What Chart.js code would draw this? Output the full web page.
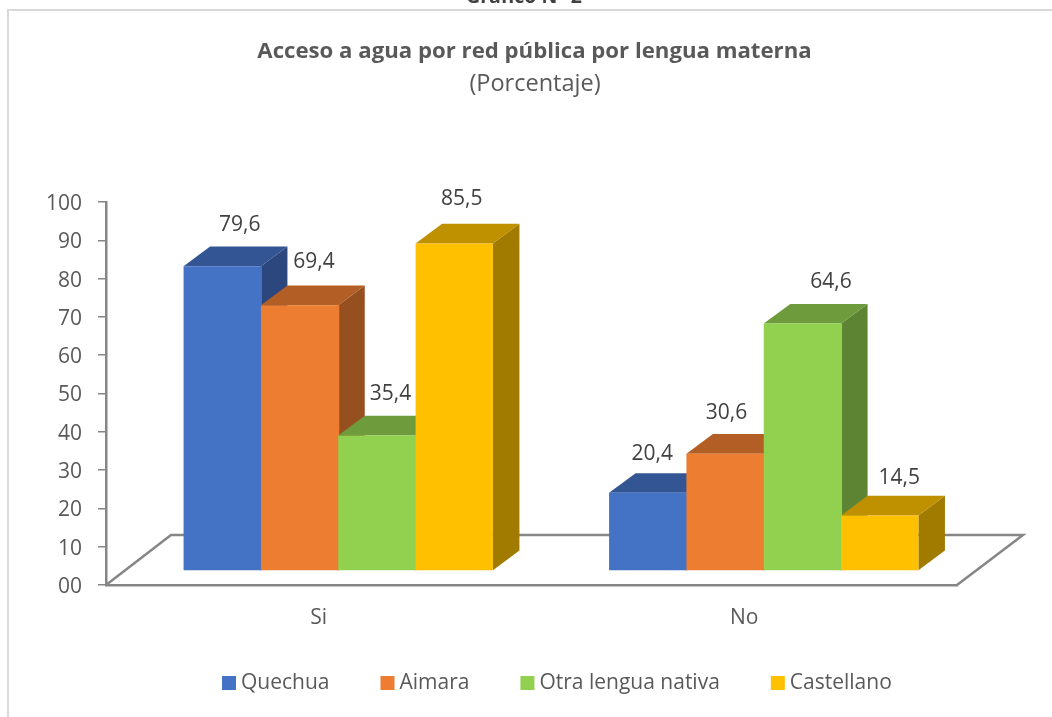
<!DOCTYPE html>
<html><head><meta charset="utf-8">
<style>html,body{margin:0;padding:0;background:#fff}canvas{display:block}</style>
<script src="https://cdn.jsdelivr.net/npm/chart.js@4"></script>
</head><body>
<div style="width:1052px;height:717px"><canvas id="c" width="1052" height="717"></canvas></div>
<script>
const categories = ['Si', 'No'];
const quechua = [79.6, 20.4];
const aimara = [69.4, 30.6];
const otraLengua = [35.4, 64.6];
const castellano = [85.5, 14.5];
const seriesNames = ['Quechua', 'Aimara', 'Otra lengua nativa', 'Castellano'];
const frontColors = ['#4472C4', '#ED7D31', '#92D050', '#FFC000'];
const topColors = ['#335593', '#B25E25', '#6E9C3C', '#BF9000'];
const sideColors = ['#2B477D', '#96501F', '#5D8433', '#A17A00'];
const yTickLabels = ['00','10','20','30','40','50','60','70','80','90','100'];
const pageHeading = 'Gráfico N° 2';
const chartTitle = 'Acceso a agua por red pública por lengua materna';
const chartSubtitle = '(Porcentaje)';

const FONT = '"Open Sans", sans-serif';
const LABEL_SIZE = 21;
const AXIS = '#868686';
const SHIFT = {x: 19.5, y: -14};   // bars stand inside the floor
const DEPTH = {x: 26.5, y: -19.7}; // 3-D depth of each bar
const FLOOR = {x: 65, y: -50};     // 3-D depth of the floor
// hand-placed value labels: nudge per series, per category
const NUDGE_X = [[-2,-15],[-5,-18],[-6,9],[-12,0]];
const NUDGE_Y = [[2,4],[0,2],[1,1],[-2,5]];

function fmt(v){ return v.toFixed(1).replace('.', ','); }
function poly(ctx, pts, fill){
  ctx.beginPath();
  pts.forEach((p,i)=> i ? ctx.lineTo(p[0],p[1]) : ctx.moveTo(p[0],p[1]));
  ctx.closePath();
  ctx.fillStyle = fill; ctx.fill();
}

const frame = {
  id: 'frame',
  beforeDraw(chart){
    const ctx = chart.ctx;
    ctx.save();
    ctx.fillStyle = '#fff'; ctx.fillRect(0,0,chart.width,chart.height);
    ctx.strokeStyle = '#D9D9D9'; ctx.lineWidth = 2;
    ctx.beginPath(); ctx.moveTo(8,717); ctx.lineTo(8,10); ctx.lineTo(1052,10); ctx.stroke();
    ctx.textAlign = 'center'; ctx.textBaseline = 'alphabetic';
    ctx.fillStyle = '#404040'; ctx.font = 'bold 19.5px ' + FONT;
    ctx.fillText(pageHeading, 524, 3);
    ctx.fillStyle = '#595959'; ctx.font = 'bold 22.2px ' + FONT;
    ctx.fillText(chartTitle, 534.5, 58);
    ctx.font = '23.5px ' + FONT;
    ctx.fillText(chartSubtitle, 535, 91);
    // legend
    ctx.textAlign = 'left'; ctx.textBaseline = 'middle'; ctx.font = LABEL_SIZE + 'px ' + FONT;
    let x = 222;
    seriesNames.forEach((n,i)=>{
      ctx.fillStyle = frontColors[i]; ctx.fillRect(x, 676, 14, 14);
      ctx.fillStyle = '#595959'; ctx.fillText(n, x+19, 683);
      x += 19 + ctx.measureText(n).width + 51;
    });
    ctx.restore();
  },
  beforeDatasetsDraw(chart){
    const ctx = chart.ctx, a = chart.chartArea;
    const last = chart.data.datasets.length - 1;
    ctx.save();
    ctx.strokeStyle = AXIS; ctx.lineWidth = 2.5;
    ctx.beginPath();
    ctx.moveTo(a.left, a.bottom);
    ctx.lineTo(a.left+FLOOR.x, a.bottom+FLOOR.y);
    ctx.lineTo(a.right+FLOOR.x+1, a.bottom+FLOOR.y);
    ctx.lineTo(a.right, a.bottom);
    ctx.stroke();
    ctx.translate(SHIFT.x, SHIFT.y);
    // series order: each front covers its left neighbour's side
    chart.data.datasets.forEach((ds,i)=>{
      chart.getDatasetMeta(i).data.forEach(bar=>{
        const l = bar.x-bar.width/2, r = bar.x+bar.width/2, t = bar.y, b = bar.base;
        const dx = DEPTH.x, dy = DEPTH.y;
        poly(ctx, [[r,t],[r+dx,t+dy],[r+dx,b+dy],[r,b]], sideColors[i]);
        poly(ctx, [[l,t],[l+dx,t+dy],[r+dx,t+dy],[r,t]], topColors[i]);
        // small overlap so the floor line cannot show through the seam between fronts
        if (i < last) poly(ctx, [[r-1,t],[r+1,t],[r+1,b],[r-1,b]], frontColors[i]);
        bar.draw(ctx);
      });
    });
    // value labels
    ctx.fillStyle = '#404040'; ctx.font = LABEL_SIZE + 'px ' + FONT;
    ctx.textAlign = 'center'; ctx.textBaseline = 'middle';
    chart.data.datasets.forEach((ds,i)=>{
      chart.getDatasetMeta(i).data.forEach((bar,j)=>{
        ctx.fillText(fmt(ds.data[j]), bar.x+DEPTH.x-7+NUDGE_X[i][j], bar.y+DEPTH.y-23+NUDGE_Y[i][j]);
      });
    });
    ctx.restore();
    return false;
  }
};

const series = [quechua, aimara, otraLengua, castellano];
new Chart(document.getElementById('c'), {
  type: 'bar',
  data: {
    labels: categories,
    datasets: series.map((d,i)=>({
      label: seriesNames[i], data: d,
      backgroundColor: frontColors[i], borderWidth: 0,
      categoryPercentage: 0.727, barPercentage: 1
    }))
  },
  plugins: [frame],
  options: {
    responsive: false, animation: false,
    layout: {padding: {top: 202, right: 95, left: 0, bottom: 0}},
    plugins: {legend: {display: false}, title: {display: false}, tooltip: {enabled: false}},
    scales: {
      x: {
        afterFit(s){ s.height = 132; },
        grid: {drawOnChartArea: false, drawTicks: false},
        border: {color: AXIS, width: 2.5},
        ticks: {color: '#595959', font: {family: FONT, size: LABEL_SIZE}, padding: 20}
      },
      y: {
        min: 0, max: 100,
        afterFit(s){ s.width = 106; },
        grid: {drawOnChartArea: false, color: AXIS, tickLength: 8, lineWidth: 1.5},
        border: {color: AXIS, width: 2.5},
        ticks: {stepSize: 10, color: '#595959', font: {family: FONT, size: LABEL_SIZE}, padding: 16, labelOffset: 2,
          callback(v, i){ return yTickLabels[i]; }}
      }
    }
  }
});
</script>
</body></html>
